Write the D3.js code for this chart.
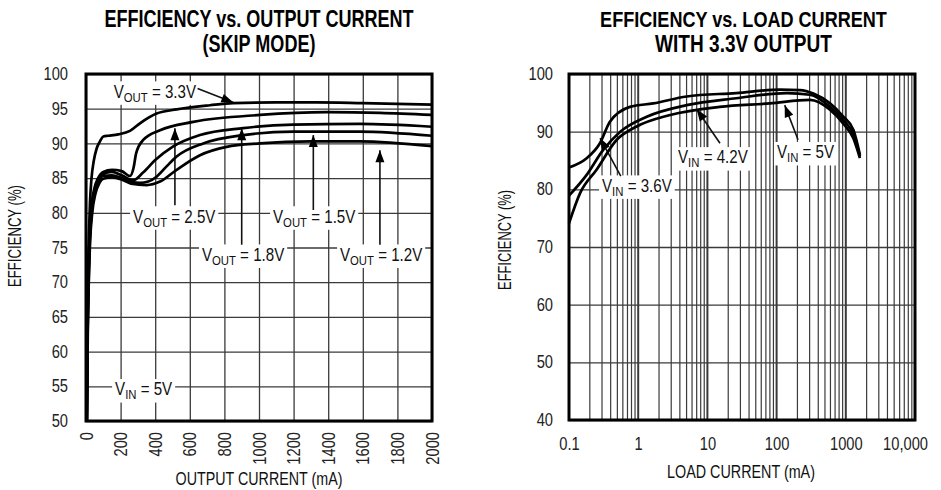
<!DOCTYPE html>
<html><head><meta charset="utf-8">
<script src="https://cdn.jsdelivr.net/npm/d3@7"></script>
<style>
body{margin:0;background:#fff;}
svg{display:block;}
text{font-family:"Liberation Sans",Arial,Helvetica,sans-serif;fill:#111;}
</style></head><body>
<svg id="c" width="941" height="490"></svg>
<script>
// ---------- DATA ----------
const leftTitle = ["EFFICIENCY vs. OUTPUT CURRENT", "(SKIP MODE)"];
const rightTitle = ["EFFICIENCY vs. LOAD CURRENT", "WITH 3.3V OUTPUT"];
const leftXTicks = [0,200,400,600,800,1000,1200,1400,1600,1800,2000];
const leftYTicks = [50,55,60,65,70,75,80,85,90,95,100];
const rightXTicks = [0.1,1,10,100,1000,10000];
const rightXTickLabels = ["0.1","1","10","100","1000","10,000"];
const rightYTicks = [40,50,60,70,80,90,100];

// Left chart: output current (mA), efficiency (%)
const vout33 = [[4,50],[7,60],[11,70],[17,77],[23,81.5],[32,85],[45,87.5],[62,89.3],[81,90.3],[100,91.0],[130,91.1],[187,91.3],[254,91.8],[312,92.9],[408,94.3],[524,94.9],[717,95.5],[850,95.8],[1100,95.9],[1330,95.9],[1600,95.8],[2000,95.6]];
const vout25 = [[4,50],[8,62],[13,70],[20,76],[30,80.5],[48,83.5],[70,85.0],[100,85.9],[150,86.2],[206,86.0],[254,85.3],[275,86.5],[290,88.6],[331,90.5],[428,91.9],[620,93.1],[1006,94.1],[1391,94.5],[1700,94.4],[2000,94.1]];
const vout18 = [[5,50],[9,62],[14,70],[21,76],[32,80.3],[50,83.2],[72,84.8],[100,85.6],[150,85.9],[206,85.4],[273,84.7],[330,85.8],[400,87.6],[500,89.5],[659,91.2],[908,92.2],[1197,92.7],[1583,92.8],[2000,92.4]];
const vout15 = [[5,50],[9,62],[15,70],[22,76],[34,80.2],[52,83.0],[75,84.6],[100,85.3],[150,85.4],[206,85.0],[260,84.5],[312,84.3],[360,84.5],[408,85.2],[470,86.8],[524,88.1],[678,90.0],[909,91.2],[1200,91.7],[1583,91.7],[2000,91.1]];
const vout12 = [[6,50],[10,62],[16,70],[24,76],[36,80.0],[55,82.8],[78,84.3],[100,84.9],[150,85.1],[206,84.8],[260,84.2],[351,84.0],[428,84.5],[524,86.2],[659,88.3],[813,89.5],[1006,90.0],[1300,90.3],[1583,90.3],[2000,89.6]];

// Right chart: load current (mA), efficiency (%)
const vin36 = [[0.1,83.8],[0.18,85.4],[0.28,88.0],[0.39,91.7],[0.76,94.3],[1.65,94.9],[5,96.1],[26,96.7],[112,97.3],[218,97.2],[340,96.6],[591,94.9],[920,92.6],[1290,90.3],[1600,86.0]];
const vin42 = [[0.1,78.9],[0.18,82.5],[0.31,86.8],[0.55,90.0],[1.33,92.6],[5,94.6],[26,95.8],[140,96.7],[303,96.4],[591,94.3],[920,92.0],[1290,89.5],[1600,85.7]];
const vin50 = [[0.1,74.1],[0.144,79.3],[0.25,83.4],[0.49,88.6],[0.95,90.9],[2.9,92.9],[15,94.3],[80,94.9],[303,95.5],[591,93.8],[920,91.4],[1290,88.8],[1600,85.4]];

// ---------- DRAW ----------
const svg = d3.select('#c');
const GRID = '#3a3a3a';
const NARROW = 0.84;

function condense(sel, f){
  sel.each(function(){
    const w=this.getComputedTextLength();
    d3.select(this).attr('textLength',w*f).attr('lengthAdjust','spacingAndGlyphs');
  });
}
// text squeezed horizontally by a group transform (x,y = anchor point)
function narrowText(parent, x, y, str, size, anchor, target, rot){
  const g=parent.append('g');
  const t=g.append('text').attr('x',0).attr('y',0).attr('font-size',size).attr('text-anchor',anchor).text(str);
  const w=t.node().getComputedTextLength();
  const s=target? target/w : NARROW;
  g.attr('transform',`translate(${x},${y})${rot?` rotate(${rot})`:''} scale(${s},1)`);
  return t;
}
function title(lines, cx, lens){
  lines.forEach((t,i)=>{
    narrowText(svg, cx, i===0?27:52, t, 23, 'middle', lens[i]).attr('font-weight','bold').style('fill','#000');
  });
}
function arrow(g,x1,y1,x2,y2){
  g.append('line').attr('x1',x1).attr('y1',y1).attr('x2',x2).attr('y2',y2)
    .attr('stroke','#111').attr('stroke-width',1.6);
  const a=Math.atan2(y2-y1,x2-x1), L=12, W=4.5;
  const bx=x2-L*Math.cos(a), by=y2-L*Math.sin(a);
  const px=-Math.sin(a)*W, py=Math.cos(a)*W;
  g.append('path').attr('d',`M${x2},${y2}L${bx+px},${by+py}L${bx-px},${by-py}Z`).attr('fill','#000');
}
function label(parent,x,y,sub,rest){
  const g=parent.append('g').attr('transform',`translate(${x},${y}) scale(${NARROW},1)`);
  const t=g.append('text').attr('x',0).attr('y',0).attr('font-size',18);
  t.append('tspan').text('V');
  t.append('tspan').attr('font-size',13.5).attr('dy',4).text(sub);
  t.append('tspan').attr('dy',-4).text(' = '+rest);
  const b=t.node().getBBox();
  g.insert('rect','text').attr('x',b.x-3.5).attr('y',b.y).attr('width',b.width+7).attr('height',b.height)
   .attr('fill','#fff');
  return t;
}

// ===== LEFT CHART =====
const xL = d3.scaleLinear().domain([0,2000]).range([86,432]);
const yL = d3.scaleLinear().domain([50,100]).range([421,74]);
const gL = svg.append('g');
gL.append('g').attr('transform','translate(0,421)')
  .call(d3.axisBottom(xL).tickValues(leftXTicks).tickSize(-347).tickFormat(''))
  .call(g=>{g.select('.domain').remove(); g.selectAll('line').attr('stroke',GRID).attr('stroke-width',1.3);});
gL.append('g').attr('transform','translate(86,0)')
  .call(d3.axisLeft(yL).tickValues(leftYTicks).tickSize(-346).tickFormat(''))
  .call(g=>{g.select('.domain').remove(); g.selectAll('line').attr('stroke',GRID).attr('stroke-width',1.3);});

const annL = gL.append('g');
label(annL, xL(160), yL(96.6), 'OUT', '3.3V');
label(annL, xL(272), yL(78.6), 'OUT', '2.5V');
label(annL, xL(1081), yL(78.6), 'OUT', '1.5V');
label(annL, xL(670), yL(73.1), 'OUT', '1.8V');
label(annL, xL(1468), yL(73.1), 'OUT', '1.2V');
label(annL, xL(168), yL(53.7), 'IN', '5V');
arrow(annL, xL(645), yL(97.9), xL(852), yL(95.9));
arrow(annL, xL(514), yL(81.1), xL(514), yL(92.2));
arrow(annL, xL(1314), yL(80.4), xL(1314), yL(91.2));
arrow(annL, xL(900), yL(75.4), xL(900), yL(92.2));
arrow(annL, xL(1699), yL(75.4), xL(1699), yL(89.0));

const lineL = d3.line().x(d=>xL(d[0])).y(d=>yL(d[1])).curve(d3.curveMonotoneX);
[vout33,vout25,vout18,vout15,vout12].forEach(s=>{
  gL.append('path').attr('d',lineL(s)).attr('fill','none').attr('stroke','#000').attr('stroke-width',2.7);
});
gL.append('rect').attr('x',86).attr('y',74).attr('width',346).attr('height',347)
  .attr('fill','none').attr('stroke','#000').attr('stroke-width',3);

gL.append('g').attr('transform','translate(86,0)')
  .call(d3.axisLeft(yL).tickValues(leftYTicks).tickSize(0).tickPadding(18))
  .call(g=>{g.select('.domain').remove(); g.selectAll('text').attr('font-size',17.5).style('fill','#222');});
gL.append('g').attr('transform','translate(0,421)')
  .call(d3.axisBottom(xL).tickValues(leftXTicks).tickSize(0).tickPadding(0).tickFormat(d3.format('d')))
  .call(g=>{g.select('.domain').remove();
    g.selectAll('text').attr('font-size',17.5).style('fill','#222')
     .attr('transform','rotate(-90)').attr('text-anchor','end').attr('x',-11).attr('y',0).attr('dy','0.35em');});
narrowText(svg, 259, 485, 'OUTPUT CURRENT (mA)', 18, 'middle', 167);
narrowText(svg, 21, 236, 'EFFICIENCY (%)', 18, 'middle', 102, -90);

// ===== RIGHT CHART =====
const xR = d3.scaleLog().domain([0.1,10000]).range([569,915]);
const yR = d3.scaleLinear().domain([40,100]).range([420,74]);
const gR = svg.append('g');
const minor = xR.ticks().filter(v=>v>0.1 && v<10000);
gR.selectAll('line.vx').data(minor).join('line').attr('class','vx')
  .attr('x1',d=>xR(d)).attr('x2',d=>xR(d)).attr('y1',74).attr('y2',420)
  .attr('stroke',GRID).attr('stroke-width',d=>rightXTicks.includes(d)?2:1.2);
gR.append('g').attr('transform','translate(569,0)')
  .call(d3.axisLeft(yR).tickValues(rightYTicks).tickSize(-346).tickFormat(''))
  .call(g=>{g.select('.domain').remove(); g.selectAll('line').attr('stroke',GRID).attr('stroke-width',1.3);});

const annR = gR.append('g');
label(annR, xR(0.30), yR(79.6), 'IN', '3.6V');
label(annR, xR(3.76), yR(84.5), 'IN', '4.2V');
label(annR, xR(101), yR(85.4), 'IN', '5V');
arrow(annR, xR(0.56), yR(82.3), xR(0.281), yR(88.9));
arrow(annR, xR(15.2), yR(88.0), xR(7.0), yR(93.9));
arrow(annR, xR(204), yR(88.6), xR(131), yR(94.6));

const lineR = d3.line().x(d=>xR(d[0])).y(d=>yR(d[1])).curve(d3.curveMonotoneX);
[vin36,vin42,vin50].forEach(s=>{
  gR.append('path').attr('d',lineR(s)).attr('fill','none').attr('stroke','#000').attr('stroke-width',2.7);
});
gR.append('rect').attr('x',569).attr('y',74).attr('width',346).attr('height',346)
  .attr('fill','none').attr('stroke','#000').attr('stroke-width',3);

gR.append('g').attr('transform','translate(569,0)')
  .call(d3.axisLeft(yR).tickValues(rightYTicks).tickSize(0).tickPadding(16))
  .call(g=>{g.select('.domain').remove(); g.selectAll('text').attr('font-size',17.5).style('fill','#222');});
gR.append('g').attr('transform','translate(0,420)')
  .call(d3.axisBottom(xR).tickValues(rightXTicks).tickSize(0).tickPadding(18).tickFormat((d,i)=>rightXTickLabels[i]))
  .call(g=>{g.select('.domain').remove();
    g.selectAll('text').attr('font-size',17.5).style('fill','#222')
     .attr('dx',(d,i)=>i===rightXTicks.length-1?-10:0);});
narrowText(svg, 741, 478, 'LOAD CURRENT (mA)', 18, 'middle', 148);
narrowText(svg, 511, 240, 'EFFICIENCY (%)', 18, 'middle', 100, -90);

// condense tick labels (narrow face like the reference)
svg.selectAll('.tick text').call(condense, NARROW);
title(leftTitle, 259, [307,112]);
title(rightTitle, 743.5, [283,177]);
</script>
</body></html>
